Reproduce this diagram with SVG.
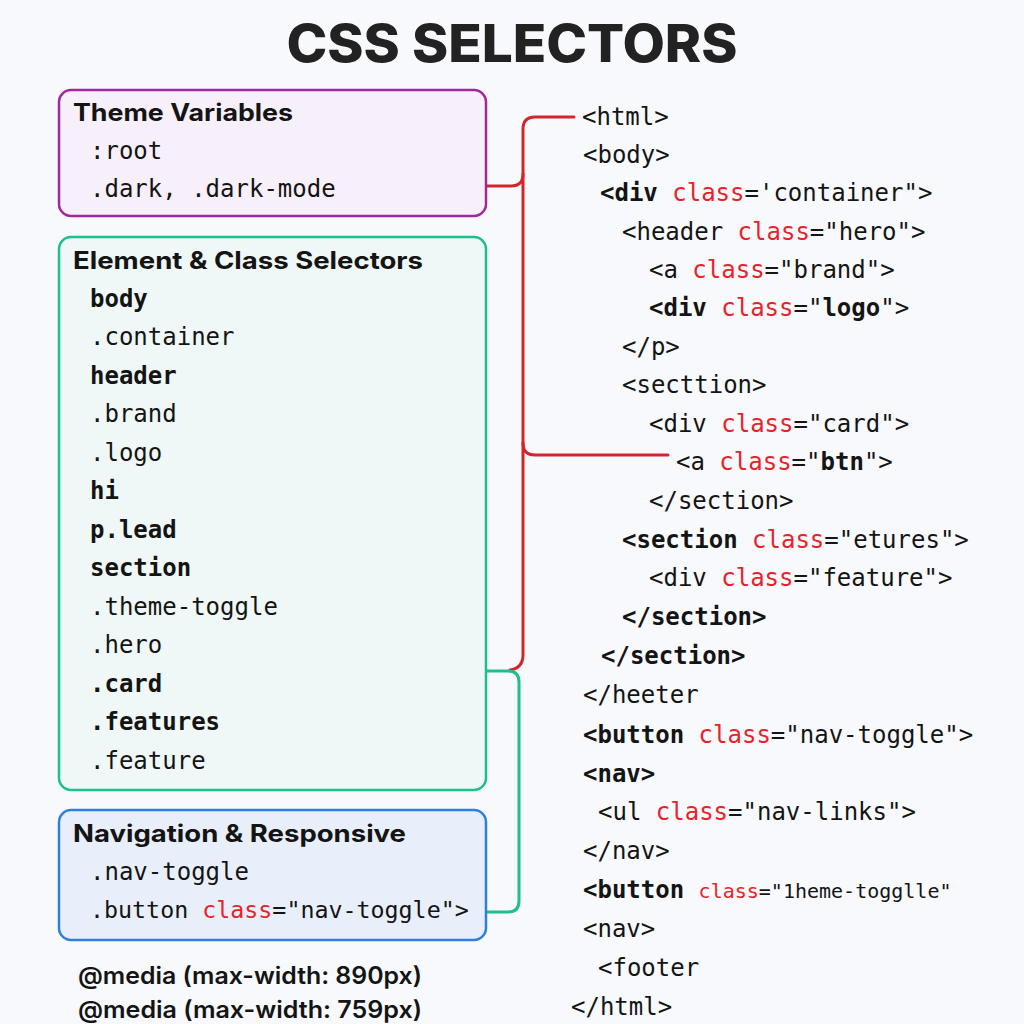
<svg xmlns="http://www.w3.org/2000/svg" width="1024" height="1024" viewBox="0 0 1024 1024">
<style>
.title{font-family:Inter,"Liberation Sans",sans-serif;font-weight:800;font-size:52px;fill:#222;}
.head{font-family:Inter,"Liberation Sans",sans-serif;font-weight:700;font-size:24px;fill:#141414;}
.mono{font-family:"DejaVu Sans Mono","Liberation Mono",monospace;font-size:24px;fill:#141414;}
.code{font-family:"DejaVu Sans Mono","Liberation Mono",monospace;font-size:24px;fill:#141414;}
.b{font-weight:700;}
.kw{fill:#e8222a;}
.media{font-family:Inter,"Liberation Sans",sans-serif;font-weight:600;font-size:24px;fill:#141414;}
.wire{fill:none;stroke-width:3;stroke-linecap:round;stroke-linejoin:round;}
</style>
<rect x="0" y="0" width="1024" height="1024" fill="#f8f9fc"/>
<text class="title" x="512" y="62" text-anchor="middle" textLength="451" lengthAdjust="spacingAndGlyphs">CSS SELECTORS</text>

<g id="connectors">
<path class="wire" stroke="#d0262e" d="M574,117 H535 Q523,117 523,129 V655 Q523,668 510,670"/>
<path class="wire" stroke="#d0262e" d="M486,186 H511 Q523,186 523,174"/>
<path class="wire" stroke="#d0262e" d="M523,443 Q523,455 535,455 H668"/>
<path class="wire" stroke="#1dbf8a" d="M486,671 H508 Q519,671 519,682 V901 Q519,912 508,912 H486"/>
</g>

<g id="theme-variables">
<rect x="59" y="90" width="427" height="126" rx="12" fill="#f7f0fa" stroke="#a0289a" stroke-width="2.5"/>
<text class="head" x="73" y="121" textLength="220" lengthAdjust="spacingAndGlyphs">Theme Variables</text>
<text class="mono" x="90" y="159">:root</text>
<text class="mono" x="90" y="197">.dark, .dark-mode</text>
</g>

<g id="element-class-selectors">
<rect x="59" y="237" width="427" height="553" rx="12" fill="#eff8f6" stroke="#1dbf8a" stroke-width="2.5"/>
<text class="head" x="73" y="269" textLength="350" lengthAdjust="spacingAndGlyphs">Element &amp; Class Selectors</text>
<text class="mono b" x="90" y="307">body</text>
<text class="mono" x="90" y="345">.container</text>
<text class="mono b" x="90" y="384">header</text>
<text class="mono" x="90" y="422">.brand</text>
<text class="mono" x="90" y="461">.logo</text>
<text class="mono b" x="90" y="499">hi</text>
<text class="mono b" x="90" y="538">p.lead</text>
<text class="mono b" x="90" y="576">section</text>
<text class="mono" x="90" y="615">.theme-toggle</text>
<text class="mono" x="90" y="653">.hero</text>
<text class="mono b" x="90" y="692">.card</text>
<text class="mono b" x="90" y="730">.features</text>
<text class="mono" x="90" y="769">.feature</text>
</g>

<g id="navigation-responsive">
<rect x="59" y="810" width="427" height="130" rx="12" fill="#e8effb" stroke="#2f7fe0" stroke-width="2.5"/>
<text class="head" x="73" y="842" textLength="333" lengthAdjust="spacingAndGlyphs">Navigation &amp; Responsive</text>
<text class="mono" x="90" y="880">.nav-toggle</text>
<text class="mono" x="90" y="918" style="font-size:23.3px">.button <tspan class="kw">class</tspan>="nav-toggle"&gt;</text>
</g>

<g id="media-queries">
<text class="media" x="78" y="984" textLength="344" lengthAdjust="spacingAndGlyphs">@media (max-width: 890px)</text>
<text class="media" x="78" y="1018" textLength="344" lengthAdjust="spacingAndGlyphs">@media (max-width: 759px)</text>
</g>

<g id="html-tree">
<text class="code" x="582" y="125">&lt;html&gt;</text>
<text class="code" x="583" y="163">&lt;body&gt;</text>
<text class="code" x="600" y="201"><tspan class="b">&lt;div</tspan> <tspan class="kw">class</tspan>='container"&gt;</text>
<text class="code" x="622" y="240">&lt;header <tspan class="kw">class</tspan>="hero"&gt;</text>
<text class="code" x="649" y="278">&lt;a <tspan class="kw">class</tspan>="brand"&gt;</text>
<text class="code" x="649" y="316"><tspan class="b">&lt;div</tspan> <tspan class="kw">class</tspan>="<tspan class="b">logo</tspan>"&gt;</text>
<text class="code" x="622" y="355">&lt;/p&gt;</text>
<text class="code" x="622" y="393">&lt;secttion&gt;</text>
<text class="code" x="649" y="432">&lt;div <tspan class="kw">class</tspan>="card"&gt;</text>
<text class="code" x="676" y="470">&lt;a <tspan class="kw">class</tspan>="<tspan class="b">btn</tspan>"&gt;</text>
<text class="code" x="649" y="509">&lt;/section&gt;</text>
<text class="code" x="622" y="548"><tspan class="b">&lt;section</tspan> <tspan class="kw">class</tspan>="etures"&gt;</text>
<text class="code" x="649" y="586">&lt;div <tspan class="kw">class</tspan>="feature"&gt;</text>
<text class="code b" x="622" y="625">&lt;/section&gt;</text>
<text class="code b" x="601" y="664">&lt;/section&gt;</text>
<text class="code" x="583" y="703">&lt;/heeter</text>
<text class="code" x="583" y="743"><tspan class="b">&lt;button</tspan> <tspan class="kw">class</tspan>="nav-toggle"&gt;</text>
<text class="code b" x="583" y="782">&lt;nav&gt;</text>
<text class="code" x="598" y="820">&lt;ul <tspan class="kw">class</tspan>="nav-links"&gt;</text>
<text class="code" x="583" y="859">&lt;/nav&gt;</text>
<text class="code" x="583" y="898"><tspan class="b">&lt;button</tspan> <tspan class="kw" style="font-size:20px">class</tspan><tspan style="font-size:20px">="1heme-togglle"</tspan></text>
<text class="code" x="583" y="937">&lt;nav&gt;</text>
<text class="code" x="598" y="976">&lt;footer</text>
<text class="code" x="571" y="1015">&lt;/html&gt;</text>
</g>
</svg>
